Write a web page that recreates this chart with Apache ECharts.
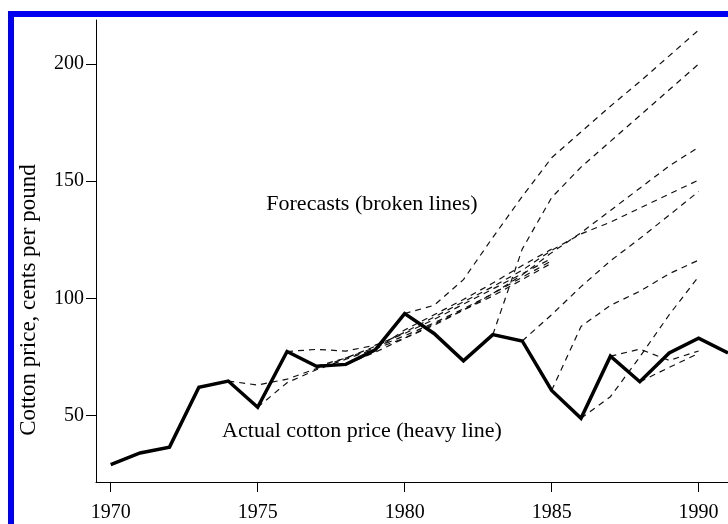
<!DOCTYPE html>
<html>
<head>
<meta charset="utf-8">
<style>
  html, body { margin: 0; padding: 0; background: #fff; }
  #chart { width: 728px; height: 524px; }
</style>
<script src="https://cdn.jsdelivr.net/npm/echarts@6/dist/echarts.min.js"></script>
</head>
<body>
<div id="chart"></div>
<script>
// actual cotton price, cents per pound
var years = [1970, 1971, 1972, 1973, 1974, 1975, 1976, 1977, 1978, 1979, 1980,
             1981, 1982, 1983, 1984, 1985, 1986, 1987, 1988, 1989, 1990, 1991];
var actualPrice = [29, 34, 36.5, 62, 64.7, 53.5, 77.3, 71, 71.8, 78, 93.5,
                   85, 73.3, 84.5, 81.8, 60.7, 48.8, 75.3, 64.4, 76.7, 83, 76.7];

// forecasts: each one starts at the year it was made
var fc1974 = [64.7, 63, 65.5, 70, 74.5, 79, 84, 89.5, 95.5, 102, 109, 116];
var fc1975 = [53.5, 64, 69.5, 74, 78.5, 83, 88.5, 95, 102, 110, 119.5, 128, 137.5, 147, 156.5, 164.5];
var fc1976 = [77.3, 78.2, 77.5, 80, 85, 91, 97.5, 104, 110.5, 117];
var fc1977 = [71, 74.5, 79.5, 85.5, 92, 98.5, 105, 112, 120.5, 127.5, 132.5, 138.5, 144.5, 150.5];
var fc1978 = [71.8, 77, 83, 89, 95, 101, 108, 115];
var fc1979 = [78, 86.5, 93, 99.5, 106.5, 114, 121];
var fc1980 = [93.5, 97, 108, 126, 143.5, 160, 171, 182, 192.5, 203.5, 214.5];
var fc1983 = [84.5, 121, 143, 156, 167, 178, 189, 200];
var fc1984 = [81.8, 93, 105, 116, 125.5, 135.5, 145.6];
var fc1985 = [60.7, 88, 97, 103, 110.5, 116.3];
var fc1986 = [48.8, 58, 75, 93, 109.3];
var fc1987 = [75.3, 78.3, 73.5, 77.5];
var fc1988 = [64.4, 70.5, 76.5];

var forecasts = [
    [1974, fc1974], [1975, fc1975], [1976, fc1976], [1977, fc1977],
    [1978, fc1978], [1979, fc1979], [1980, fc1980], [1983, fc1983],
    [1984, fc1984], [1985, fc1985], [1986, fc1986], [1987, fc1987], [1988, fc1988]
];

var yearTicks = [1970, 1975, 1980, 1985, 1990];
var priceTicks = [50, 100, 150, 200];

var serif = "'Liberation Serif', 'Times New Roman', serif";

var chart = echarts.init(document.getElementById('chart'));

var series = [];
forecasts.forEach(function (f) {
    var start = f[0];
    series.push({
        name: 'forecast ' + start,
        type: 'line',
        symbol: 'none',
        z: 2,
        lineStyle: { color: '#111', width: 1.2, type: [6, 5] },
        data: f[1].map(function (v, i) { return [start + i, v]; })
    });
});
series.push({
    name: 'actual',
    type: 'line',
    symbol: 'none',
    z: 5,
    lineStyle: { color: '#000', width: 3.5, join: 'miter' },
    data: years.map(function (y, i) { return [y, actualPrice[i]]; })
});

var option = {
    animation: false,
    backgroundColor: '#fff',
    grid: { left: 96, right: 0, top: 20, bottom: 42 },
    xAxis: {
        type: 'value',
        min: 1969.5,
        max: 1991,
        axisLine: { lineStyle: { color: '#000', width: 1 } },
        axisTick: { show: true, length: 10, customValues: yearTicks, lineStyle: { color: '#000' } },
        axisLabel: {
            customValues: yearTicks, margin: 21, color: '#000', fontSize: 20, fontFamily: serif,
            formatter: function (v) { return String(v); }
        },
        splitLine: { show: false }
    },
    yAxis: {
        type: 'value',
        min: 21.6,
        max: 218.8,
        axisLine: { show: true, lineStyle: { color: '#000', width: 1 } },
        axisTick: { show: true, length: 10, customValues: priceTicks, lineStyle: { color: '#000' } },
        axisLabel: { customValues: priceTicks, margin: 12, color: '#000', fontSize: 20, fontFamily: serif },
        splitLine: { show: false }
    },
    graphic: [
        // blue frame (top and left edge)
        { type: 'rect', shape: { x: 8, y: 11, width: 720, height: 6 }, style: { fill: '#0000f0' } },
        { type: 'rect', shape: { x: 8, y: 11, width: 6, height: 513 }, style: { fill: '#0000f0' } },
        {
            type: 'text', x: 29, y: 300, rotation: Math.PI / 2,
            style: { text: 'Cotton price, cents per pound', font: '23px ' + serif, fill: '#000',
                     align: 'center', verticalAlign: 'middle' }
        },
        {
            type: 'text', x: 372, y: 204,
            style: { text: 'Forecasts (broken lines)', font: '22px ' + serif, fill: '#000',
                     align: 'center', verticalAlign: 'middle' }
        },
        {
            type: 'text', x: 362, y: 431,
            style: { text: 'Actual cotton price (heavy line)', font: '22px ' + serif, fill: '#000',
                     align: 'center', verticalAlign: 'middle' }
        }
    ],
    series: series
};

chart.setOption(option);
</script>
</body>
</html>
